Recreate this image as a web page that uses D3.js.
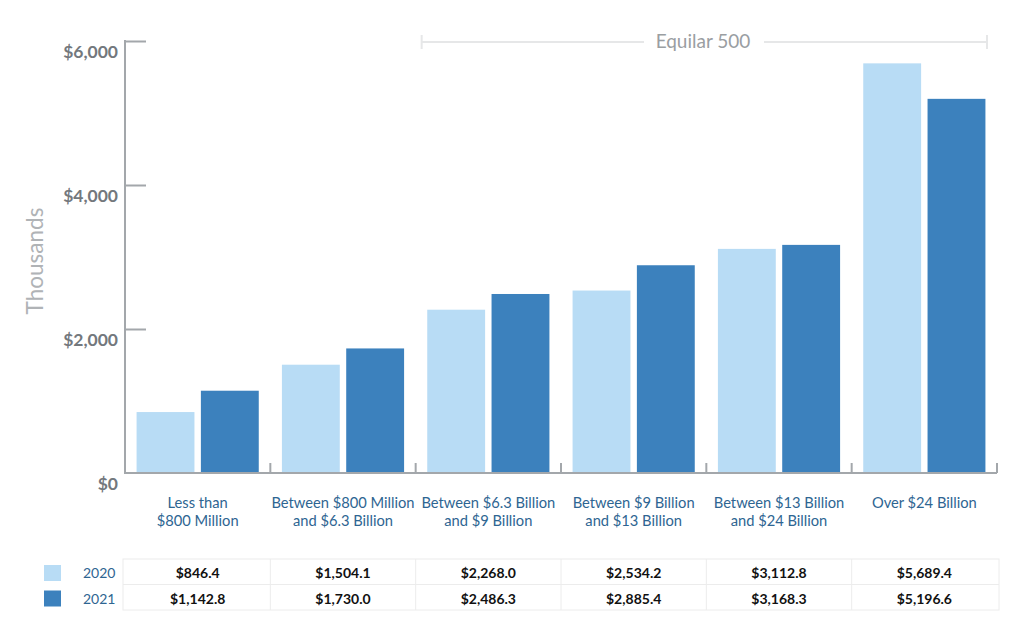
<!DOCTYPE html>
<html>
<head>
  <meta charset="UTF-8"/>
  <title>Equilar pay by company size</title>
  <style>
    body { margin: 0; background: #fff; font-family: 'Lato', 'Open Sans', sans-serif; }
    svg text { font-family: 'Lato', 'Open Sans', sans-serif; }
    .ytick { font-size: 17.5px; font-weight: bold; fill: #73787d; }
    .cat { font-size: 14.7px; fill: #2e6592; }
    .val { font-size: 14px; font-weight: bold; fill: #111; }
    .year { font-size: 14px; fill: #2e6592; }
  </style>
  <script src="https://d3js.org/d3.v7.min.js"></script>
</head>
<body>
<svg width="1024" height="635"></svg>
<script>
// data
var categories = [
  ["Less than", "$800 Million"],
  ["Between $800 Million", "and $6.3 Billion"],
  ["Between $6.3 Billion", "and $9 Billion"],
  ["Between $9 Billion", "and $13 Billion"],
  ["Between $13 Billion", "and $24 Billion"],
  ["Over $24 Billion"]
];
var years = ["2020", "2021"];
var values2020 = [846.4, 1504.1, 2268.0, 2534.2, 3112.8, 5689.4];
var values2021 = [1142.8, 1730.0, 2486.3, 2885.4, 3168.3, 5196.6];
var yTicks = [0, 2000, 4000, 6000];
var colors = ["#b8dcf5", "#3c81bd"];

var svg = d3.select("svg");
var mLeft = 125, mRight = 997, mTop = 41, mBottom = 473;

var x = d3.scaleBand().domain(d3.range(categories.length)).range([mLeft, mRight]);
var xs = d3.scaleBand().domain(years).range([0, x.bandwidth()]).paddingInner(0.1).paddingOuter(0.18);
var y = d3.scaleLinear().domain([0, 6000]).range([mBottom, mTop]);

var series = [values2020, values2021];

// bars
series.forEach(function(vals, si) {
  svg.append("g").selectAll("rect")
    .data(vals)
    .enter().append("rect")
      .attr("x", function(d, i) { return x(i) + xs(years[si]); })
      .attr("y", function(d) { return y(d); })
      .attr("width", xs.bandwidth())
      .attr("height", function(d) { return mBottom - y(d); })
      .attr("fill", colors[si]);
});

// y axis
var ya = svg.append("g").attr("transform", "translate(" + mLeft + ",0)")
  .call(d3.axisRight(y).tickValues(yTicks).tickSize(21).tickFormat(""));
ya.select(".domain").remove();
ya.selectAll("line").attr("stroke", "#a3a7ab").attr("stroke-width", 2);
ya.selectAll(".tick").filter(function(d) { return d === 0; }).remove();
svg.append("line").attr("x1", mLeft).attr("x2", mLeft).attr("y1", mTop - 1).attr("y2", mBottom + 1)
  .attr("stroke", "#a3a7ab").attr("stroke-width", 2);

svg.append("g").selectAll("text")
  .data(yTicks)
  .enter().append("text")
    .attr("class", "ytick")
    .attr("x", mLeft - 7)
    .attr("y", function(d) { return y(d) + 17; })
    .attr("text-anchor", "end")
    .text(function(d) { return d3.format("$,")(d); });

svg.append("text")
  .attr("transform", "translate(43,261) rotate(-90)")
  .attr("text-anchor", "middle")
  .style("font-size", "22.5px")
  .style("fill", "#b0b3b6")
  .text("Thousands");

// x axis
svg.append("line").attr("x1", mLeft).attr("x2", mRight).attr("y1", mBottom).attr("y2", mBottom)
  .attr("stroke", "#a3a7ab").attr("stroke-width", 2);
svg.append("g").selectAll("line")
  .data(d3.range(1, categories.length + 1))
  .enter().append("line")
    .attr("x1", function(i) { return mLeft + i * x.step(); })
    .attr("x2", function(i) { return mLeft + i * x.step(); })
    .attr("y1", mBottom)
    .attr("y2", mBottom - 10)
    .attr("stroke", "#a3a7ab").attr("stroke-width", 2);

var cl = svg.append("g").selectAll("text")
  .data(categories)
  .enter().append("text")
    .attr("class", "cat")
    .attr("text-anchor", "middle")
    .attr("x", function(d, i) { return x(i) + x.bandwidth() / 2; })
    .attr("y", 508);
cl.selectAll("tspan")
  .data(function(d) { return d; })
  .enter().append("tspan")
    .attr("x", function() { return d3.select(this.parentNode).attr("x"); })
    .attr("dy", function(d, i) { return i ? 18 : 0; })
    .text(function(d) { return d; });

// Equilar 500 bracket
var bx1 = x(2) + 6, bx2 = mRight - 10, by = 42;
var bg = svg.append("g").attr("stroke", "#e6e7e8").attr("stroke-width", 2);
bg.append("line").attr("x1", bx1).attr("x2", 644).attr("y1", by).attr("y2", by);
bg.append("line").attr("x1", 764).attr("x2", bx2).attr("y1", by).attr("y2", by);
bg.append("line").attr("x1", bx1).attr("x2", bx1).attr("y1", by - 7).attr("y2", by + 7);
bg.append("line").attr("x1", bx2).attr("x2", bx2).attr("y1", by - 7).attr("y2", by + 7);
svg.append("text")
  .attr("x", 703).attr("y", by + 6)
  .attr("text-anchor", "middle")
  .style("font-size", "19px").style("fill", "#9a9ea2")
  .text("Equilar 500");

// table
var rowTop = 559, rowH = 25.5;
var tg = svg.append("g");
series.forEach(function(vals, si) {
  var ry = rowTop + si * rowH;
  tg.append("rect").attr("x", 44).attr("y", ry + 6).attr("width", 17).attr("height", 16).attr("fill", colors[si]);
  tg.append("text").attr("class", "year").attr("x", 83).attr("y", ry + 19).text(years[si]);
  tg.selectAll(".v" + si)
    .data(vals)
    .enter().append("text")
      .attr("class", "val")
      .attr("text-anchor", "middle")
      .attr("x", function(d, i) { return x(i) + x.bandwidth() / 2; })
      .attr("y", ry + 19)
      .text(function(d) { return d3.format("$,.1f")(d); });
});
var grid = svg.append("g").attr("stroke", "#ececec").attr("stroke-width", 1).attr("fill", "none");
grid.append("rect").attr("x", mLeft - 2).attr("y", rowTop).attr("width", mRight - mLeft + 4).attr("height", rowH * 2);
grid.append("line").attr("x1", mLeft - 2).attr("x2", mRight + 2).attr("y1", rowTop + rowH).attr("y2", rowTop + rowH);
grid.selectAll(".cl")
  .data(d3.range(1, categories.length))
  .enter().append("line")
    .attr("x1", function(i) { return mLeft + i * x.step(); })
    .attr("x2", function(i) { return mLeft + i * x.step(); })
    .attr("y1", rowTop).attr("y2", rowTop + rowH * 2);
</script>
</body>
</html>
